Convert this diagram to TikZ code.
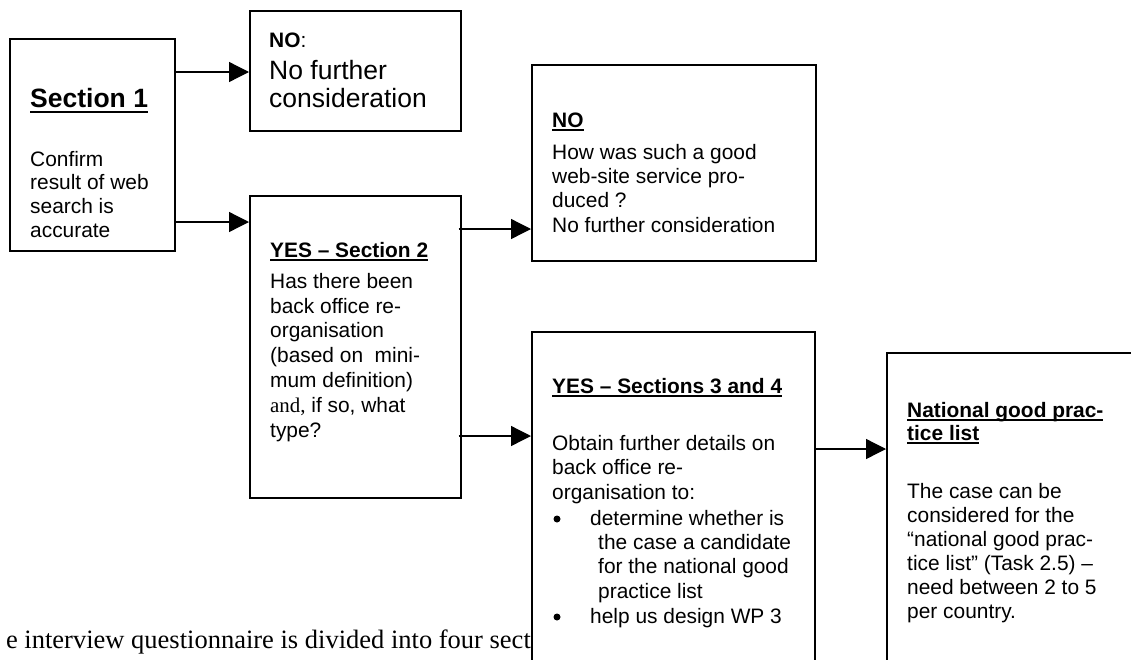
\documentclass[tikz,border=0pt]{standalone}
\usepackage{fontspec}
\setmainfont{Liberation Sans}
\newfontfamily\seriffont{Liberation Serif}
\usetikzlibrary{arrows.meta}
\newcommand\myul[1]{\setbox0\hbox{#1}\rlap{\rule[-4.3pt]{\wd0}{2.1pt}}\box0}
\newcommand\myulL[1]{\setbox0\hbox{#1}\rlap{\rule[-6.3pt]{\wd0}{2.6pt}}\box0}
\begin{document}
\begin{tikzpicture}[x=1pt,y=-1pt,
  box/.style={draw=black, line width=1.5pt, fill=white, rectangle, inner sep=0pt, anchor=north west},
  arr/.style={line width=1.3pt, -{Triangle[length=20pt,width=20pt]}},
  one/.style={anchor=base west, inner sep=0pt, font=\fontsize{20.9}{24.5}\selectfont},
  big/.style={anchor=base west, inner sep=0pt, font=\fontsize{26.5}{28}\selectfont},
  body/.style={anchor=north west, inner sep=0pt, align=left, font=\fontsize{20.9}{#1}\selectfont},
  body/.default=24.5,
  bulletdot/.style={circle, fill=black, inner sep=0pt, minimum size=7pt}]
\clip (0,0) rectangle (1131,659);
\fill[white] (0,0) rectangle (1131,659);

% text of the page below the diagram
\node[anchor=base east, inner sep=0pt, font=\seriffont\fontsize{26.5}{30}\selectfont] (page) at (531,648) {e interview questionnaire is divided into four sect};

% boxes
\node[box, minimum width=165pt, minimum height=212pt] (b1) at (9,38) {};
\node[box, minimum width=211pt, minimum height=120pt] (bno) at (249,10) {};
\node[box, minimum width=211pt, minimum height=302pt] (byes2) at (249,195) {};
\node[box, minimum width=284pt, minimum height=196pt] (bno2) at (531,64) {};
\node[box, minimum width=283pt, minimum height=400pt] (byes34) at (531,331) {};
\node[box, minimum width=300pt, minimum height=400pt] (bnat) at (886,352) {};

% Section 1
\node[big, font=\fontsize{26.5}{28}\selectfont\bfseries] (t1h) at (30,107) {\myulL{Section 1}};
\node[body=23.7] (t1b) at (30,149.41) {\strut Confirm\\result of web\\search is\\accurate};

% NO box
\node[one] (t2h) at (269,47) {\textbf{NO}:};
\node[anchor=north west, inner sep=0pt, align=left, font=\fontsize{26.5}{28}\selectfont] (t2b) at (269,59.4) {\strut No further\\consideration};

% YES Section 2
\node[one, font=\fontsize{20.9}{24.5}\selectfont\bfseries] (t3h) at (270,257) {\myul{YES – Section 2}};
\node[body=24.83] (t3b) at (270,270.62) {\strut Has there been\\back office re-\\organisation\\(based on~~mini-\\mum definition)\\{\seriffont and,}~if so, what\\type?};

% NO 2
\node[one, font=\fontsize{20.9}{24.5}\selectfont\bfseries] (t4h) at (552,127) {\myul{NO}};
\node[body=24.3] (t4b) at (552,141.99) {\strut How was such a good\\web-site service pro-\\duced ?\\No further consideration};

% YES Sections 3 and 4
\node[one, font=\fontsize{20.9}{24.5}\selectfont\bfseries] (t5h) at (552,393) {\myul{YES – Sections 3 and 4}};
\node[body=24.5] (t5b) at (552,432.85) {\strut Obtain further details on\\back office re-\\organisation to:};
\node[bulletdot] (bul1) at (557,519) {};
\node[one] (t5c) at (590,525) {determine whether is};
\node[body=24.5] (t5d) at (598,531.85) {\strut the case a candidate\\for the national good\\practice list};
\node[bulletdot] (bul2) at (557,617) {};
\node[one] (t5e) at (590,623) {help us design WP 3};

% National good practice list
\node[one, font=\fontsize{20.9}{24.5}\selectfont\bfseries] (t6h) at (907,417) {\myul{National good prac-}};
\node[one, font=\fontsize{20.9}{24.5}\selectfont\bfseries] (t6i) at (907,440) {\myul{tice list}};
\node[body=24] (t6b) at (907,481.2) {\strut The case can be\\considered for the\\“national good prac-\\tice list” (Task 2.5) –\\need between 2 to 5\\per country.};

% connectors
\draw[arr] (b1.east |- 0,72) -- (bno.west |- 0,72);
\draw[arr] (b1.east |- 0,222) -- (byes2.west |- 0,222);
\draw[arr] ([xshift=-3pt]byes2.east |- 0,229) -- (bno2.west |- 0,229);
\draw[arr] ([xshift=-3pt]byes2.east |- 0,436) -- (byes34.west |- 0,436);
\draw[arr] (byes34.east |- 0,449) -- (bnat.west |- 0,449);
\end{tikzpicture}
\end{document}
